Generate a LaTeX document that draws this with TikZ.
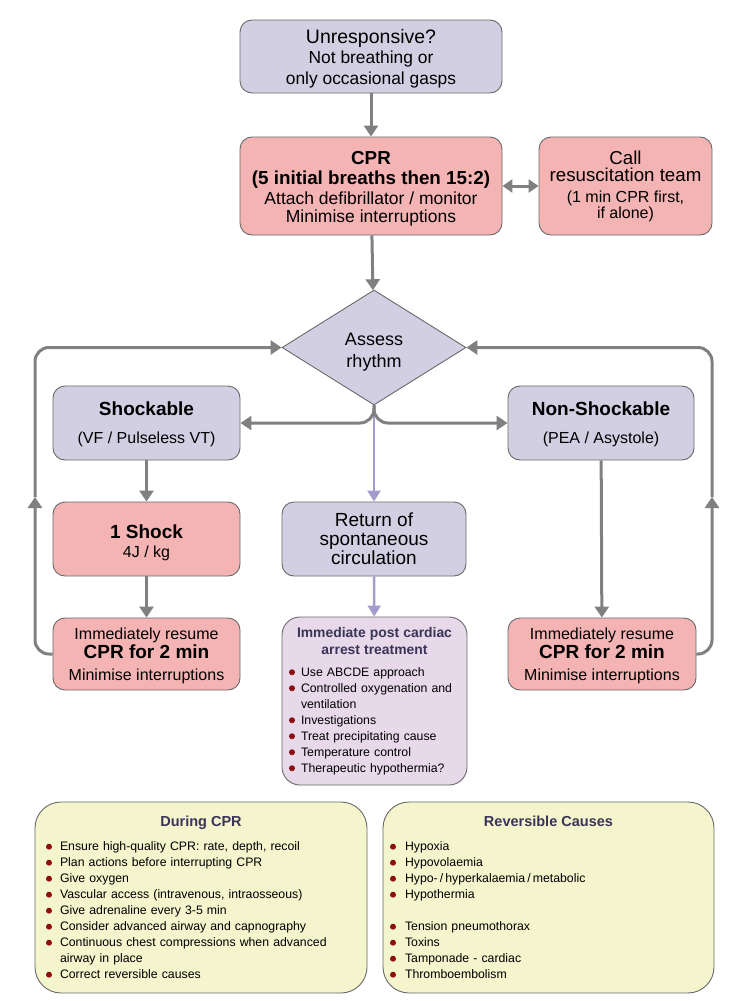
\documentclass[tikz,border=0pt]{standalone}
\usepackage{fontspec}
\setmainfont{Liberation Sans}
\usetikzlibrary{shapes.geometric,arrows.meta,positioning}

\definecolor{lilac}{RGB}{211,207,227}
\definecolor{rose}{RGB}{244,180,180}
\definecolor{mauve}{RGB}{231,216,234}
\definecolor{cream}{RGB}{244,244,205}
\definecolor{edgegrey}{RGB}{105,105,105}
\definecolor{arrowgrey}{RGB}{128,128,128}
\definecolor{roscline}{RGB}{164,156,203}
\definecolor{titleink}{RGB}{58,52,86}
\definecolor{bulletred}{RGB}{139,16,16}

\newcommand\bodyfont{\fontsize{16}{19}\selectfont}
\newcommand\headfont{\fontsize{19}{20}\selectfont\bfseries}
\newcommand\listfont{\fontsize{12.3}{16}\selectfont}
\newlength\hangw
\newcommand\bulletmark{\tikz[baseline=-4pt]\fill[bulletred] (0,0) circle[radius=3pt];}
\newcommand\litem[1]{\par\hangindent=\hangw\hangafter=1\noindent\makebox[\hangw][l]{\bulletmark}#1}

\begin{document}
\begin{tikzpicture}[x=1pt,y=-1pt,
    box/.style={rectangle, rounded corners=12pt, draw=edgegrey, line width=0.9pt,
      align=center, inner sep=0pt, font=\bodyfont},
    lilacbox/.style={box, fill=lilac},
    pinkbox/.style={box, fill=rose},
    listbox/.style={box, rounded corners=26pt, fill=cream, align=left, font=\listfont},
    flow/.style={draw=arrowgrey, line width=3pt, -{Triangle[width=14pt,length=11pt]}},
    roscflow/.style={draw=roscline, line width=2.5pt, -{Triangle[width=13pt,length=11pt]}}]

  \fill[white] (0,0) rectangle (737,1001);
  \useasboundingbox (0,0) rectangle (737,1001);

  % top of the chart
  \node[lilacbox, minimum width=262pt, minimum height=73pt, font=\fontsize{17.4}{20.5}\selectfont] (unresp) at (371,56.5)
    {{\fontsize{19.5}{20}\selectfont\rule{0pt}{18pt}Unresponsive?}\\ Not breathing or\\ only occasional gasps};
  \node[pinkbox, minimum width=262pt, minimum height=98pt, font=\fontsize{17.5}{19.5}\selectfont] (cpr) at (371,186)
    {{\fontsize{18.8}{19.5}\selectfont\bfseries\rule{0pt}{19pt}CPR}\\ {\fontsize{18.8}{19.5}\selectfont\bfseries (5 initial breaths then 15:2)}\\[1pt]
     Attach defibrillator / monitor\\[-2pt] Minimise interruptions};
  \node[pinkbox, minimum width=173pt, minimum height=98pt, font=\fontsize{16}{17}\selectfont] (call) at (625.5,186)
    {{\fontsize{18.7}{18}\selectfont Call}\\ {\fontsize{18.7}{18}\selectfont resuscitation team}\\[4pt]
     (1 min CPR first,\\[-1pt] if alone)};

  \node[diamond, draw=edgegrey, line width=0.9pt, fill=lilac, minimum width=184pt, minimum height=115pt,
    inner sep=0pt, align=center, font=\fontsize{18}{22}\selectfont] (assess) at (374,347.5)
    {\rule{0pt}{21pt}Assess\\ rhythm};

  % the two rhythm branches
  \node[lilacbox, minimum width=187pt, minimum height=74pt] (shock) at (146.5,423)
    {{\headfont\rule{0pt}{17pt}Shockable}\\[9pt] (VF / Pulseless VT)};
  \node[lilacbox, minimum width=186pt, minimum height=74pt] (nonshock) at (601,423)
    {{\headfont\rule{0pt}{17pt}Non-Shockable}\\[9pt] (PEA / Asystole)};
  \node[pinkbox, minimum width=187pt, minimum height=74pt] (oneshock) at (146.5,539)
    {{\headfont\rule{0pt}{21pt}1 Shock}\\[0pt] 4J / kg};
  \node[pinkbox, minimum width=187pt, minimum height=72pt] (resumeL) at (146.5,654)
    {\rule{0pt}{15pt}Immediately resume\\[0pt] {\headfont CPR for 2 min}\\[3pt] Minimise interruptions};
  \node[pinkbox, minimum width=188pt, minimum height=72pt] (resumeR) at (602,654)
    {\rule{0pt}{15pt}Immediately resume\\[0pt] {\headfont CPR for 2 min}\\[3pt] Minimise interruptions};

  % return of circulation
  \node[lilacbox, minimum width=184pt, minimum height=74pt, font=\fontsize{19}{19}\selectfont] (rosc) at (374,539)
    {Return of\\ spontaneous\\ circulation};
  \node[box, rounded corners=18pt, fill=mauve, minimum width=185pt, minimum height=168pt,
    text width=171pt, align=left, font=\listfont] (post) at (374.5,701)
    {{\centering\color{titleink}\bfseries\fontsize{13.9}{17}\selectfont Immediate post cardiac\\ arrest treatment\par}
     \vspace{6pt}\setlength\hangw{12pt}
     \litem{Use ABCDE approach}
     \litem{Controlled oxygenation and\newline ventilation}
     \litem{Investigations}
     \litem{Treat precipitating cause}
     \litem{Temperature control}
     \litem{Therapeutic hypothermia?}\par\vspace{2pt}};

  % lists at the foot
  \node[listbox, minimum width=332pt, minimum height=191pt, text width=310pt] (during) at (201,897.5)
    {{\centering\color{titleink}\bfseries\fontsize{14.5}{17}\selectfont During CPR\par}
     \vspace{8pt}\setlength\hangw{14pt}
     \litem{Ensure high-quality CPR: rate, depth, recoil}
     \litem{Plan actions before interrupting CPR}
     \litem{Give oxygen}
     \litem{Vascular access (intravenous, intraosseous)}
     \litem{Give adrenaline every 3-5 min}
     \litem{Consider advanced airway and capnography}
     \litem{Continuous chest compressions when advanced\newline airway in place}
     \litem{Correct reversible causes}\par\vspace{4pt}};
  \node[listbox, minimum width=331pt, minimum height=191pt, text width=317pt] (causes) at (548.5,897.5)
    {{\centering\color{titleink}\bfseries\fontsize{14.5}{17}\selectfont Reversible Causes\par}
     \vspace{8pt}\setlength\hangw{15pt}
     \litem{Hypoxia}
     \litem{Hypovolaemia}
     \litem{Hypo-\,/\,hyperkalaemia\,/\,metabolic}
     \litem{Hypothermia}\par
     \vspace{16pt}
     \litem{Tension pneumothorax}
     \litem{Toxins}
     \litem{Tamponade - cardiac}
     \litem{Thromboembolism}\par\vspace{4pt}};

  % connectors
  \draw[flow] (unresp) -- (cpr);
  \draw[draw=arrowgrey, line width=3pt, {Triangle[width=13pt,length=10pt]}-{Triangle[width=13pt,length=10pt]}] (cpr) -- (call);
  \draw[flow] (cpr) -- (assess);
  \draw[roscflow] (assess.south) -- (rosc.north);
  \draw[flow, rounded corners=14pt] (assess.south) |- (shock.east);
  \draw[flow, rounded corners=14pt] (assess.south) |- (nonshock.west);
  \draw[flow] (shock) -- (oneshock);
  \draw[flow] (oneshock) -- (resumeL);
  \draw[flow] (nonshock) -- (resumeR);
  \draw[roscflow] (rosc) -- (post);

  % loops back to the rhythm check
  \coordinate (upL) at (35,497);
  \coordinate (upR) at (712,497);
  \draw[flow, rounded corners=14pt] (resumeL.west) -| (upL);
  \draw[flow, rounded corners=14pt] (upL) |- (assess.west);
  \draw[flow, rounded corners=14pt] (resumeR.east) -| (upR);
  \draw[flow, rounded corners=14pt] (upR) |- (assess.east);
\end{tikzpicture}
\end{document}
